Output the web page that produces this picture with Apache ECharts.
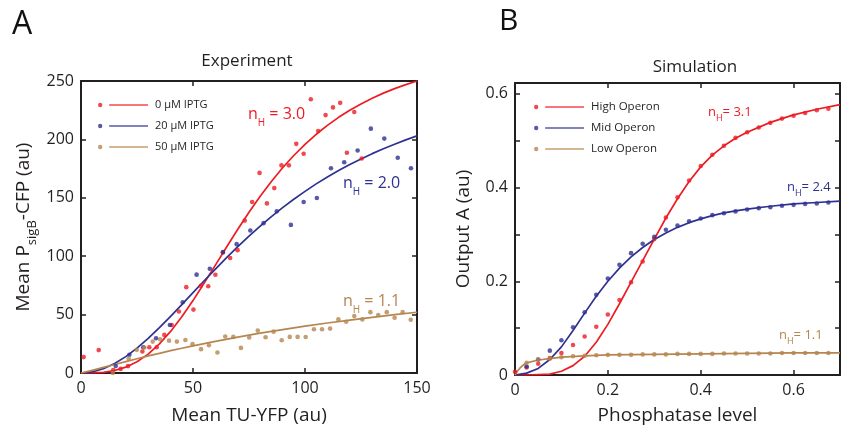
<!DOCTYPE html>
<html>
<head>
<meta charset="utf-8">
<script src="https://cdn.jsdelivr.net/npm/echarts@6/dist/echarts.min.js"></script>
<style>html,body{margin:0;padding:0;background:#fff}#c{width:843px;height:430px}</style>
</head>
<body>
<div id="c"></div>
<script>
// ---------- Panel A: Experiment ----------
const iptg0X = [1.2,7.9,14.4,17.7,21.0,27.4,30.5,33.8,37.2,40.5,43.7,47.0,50.2,53.5,56.8,60.0,63.3,66.6,69.9,73.1,76.4,79.7,83.0,86.3,89.5,92.8,96.1,99.4,102.6,105.9,109.2,112.5,115.7,118.7,122.0,125.3];
const iptg0Y = [13.6,19.6,2.6,3.5,5.9,18.4,22.0,22.0,32.6,41.1,52.7,73.5,54.3,74.6,74.3,84.1,103.2,98.4,105.2,130.5,146.4,171.3,145.2,158.3,177.8,177.8,196.2,187.7,234.4,207.2,220.8,227.4,231.3,188.6,223.4,183.7];
const iptg20X = [15.5,21.6,27.8,33.5,39.7,45.4,51.6,57.5,63.4,69.5,75.6,81.5,87.4,93.7,99.4,105.3,111.6,117.5,123.5,129.4,135.4,141.4,147.3];
const iptg20Y = [6.0,15.6,22.0,29.7,41.1,60.6,84.2,89.2,103.5,110.3,122.0,128.3,138.4,126.8,146.4,149.8,175.3,180.4,190.5,209.2,200.7,184.3,175.3];
const iptg50X = [14.2,21.3,24.9,28.3,32.0,35.3,39.3,42.8,46.6,49.8,53.6,57.1,60.9,64.4,68.0,71.4,75.1,78.9,82.4,86.0,89.6,93.2,96.7,100.3,104.0,107.6,111.2,114.9,118.4,122.0,125.6,129.2,132.7,136.5,140.0,143.6,147.2];
const iptg50Y = [0.0,12.2,19.8,21.8,26.9,28.9,27.7,26.9,28.3,24.7,20.4,23.8,17.6,31.2,30.9,21.5,30.4,36.3,30.6,35.4,28.1,30.9,30.9,30.8,37.4,37.4,38.0,45.9,43.9,48.7,45.9,52.1,49.6,52.1,47.3,52.1,45.6];
// fitted curves
const fitX = [0,5,10,15,20,25,30,35,40,45,50,55,60,65,70,75,80,85,90,95,100,105,110,115,120,125,130,135,140,145,150];
const fit0Y = [0,0.1,0.6,2.1,5.0,9.6,16.2,24.9,35.6,48.1,62.0,77.0,92.4,107.9,123.1,137.7,151.3,164.0,175.7,186.2,195.8,204.4,212.0,218.9,225.0,230.4,235.3,239.6,243.5,246.9,250.0];
const fit20Y = [0,0.9,3.7,8.1,14.0,21.3,29.6,38.8,48.5,58.6,68.8,79.0,89.0,98.8,108.2,117.2,125.8,133.9,141.6,148.8,155.5,161.9,167.8,173.3,178.5,183.3,187.8,192.0,195.9,199.6,203.0];
const fit50X = [0,5,10,15,20,25,30,35,40,45,50,60,70,80,90,100,110,120,130,140,150];
const fit50Y = [0,2.3,4.8,7.3,9.8,12.2,14.6,16.8,19.1,21.2,23.2,27.1,30.7,34.1,37.2,40.1,42.8,45.3,47.7,49.9,52.0];

// ---------- Panel B: Simulation ----------
const simX = [0,0.025,0.05,0.075,0.1,0.125,0.15,0.175,0.2,0.225,0.25,0.275,0.3,0.325,0.35,0.375,0.4,0.425,0.45,0.475,0.5,0.525,0.55,0.575,0.6,0.625,0.65,0.675];
const highY = [0.007,0.016,0.024,0.036,0.047,0.064,0.082,0.103,0.129,0.160,0.198,0.242,0.290,0.336,0.379,0.415,0.446,0.470,0.489,0.506,0.518,0.528,0.538,0.547,0.553,0.559,0.565,0.568];
const midY = [null,0.018,0.033,0.052,0.074,0.102,0.134,0.171,0.206,0.235,0.260,0.280,0.295,0.310,0.319,0.328,0.334,0.341,0.345,0.349,0.353,0.356,0.358,0.361,0.363,0.365,0.366,0.368];
const lowY = [null,0.026,0.033,0.035,0.038,0.040,0.041,0.042,0.043,0.043,0.043,0.044,0.044,0.044,0.045,0.045,0.045,0.045,0.046,0.046,0.046,0.046,0.046,0.047,0.047,0.047,0.047,0.047];
const curveX = [0,0.025,0.05,0.075,0.1,0.125,0.15,0.175,0.2,0.225,0.25,0.275,0.3,0.325,0.35,0.375,0.4,0.425,0.45,0.475,0.5,0.55,0.6,0.65,0.7];
const highCurveY = [0,0,0.001,0.002,0.008,0.02,0.04,0.07,0.108,0.152,0.198,0.244,0.29,0.335,0.376,0.413,0.444,0.469,0.489,0.505,0.518,0.539,0.555,0.567,0.577];
const midCurveY = [0,0.004,0.014,0.033,0.06,0.095,0.132,0.168,0.2,0.228,0.252,0.272,0.289,0.303,0.315,0.325,0.333,0.34,0.346,0.35,0.354,0.36,0.365,0.368,0.371];
const lowCurveX = [0,0.005,0.01,0.015,0.02,0.025,0.05,0.075,0.1,0.15,0.2,0.3,0.4,0.5,0.6,0.7];
const lowCurveY = [0,0.008,0.014,0.019,0.023,0.026,0.032,0.035,0.038,0.041,0.043,0.044,0.045,0.046,0.047,0.047];

const namesA = ['0 µM IPTG','20 µM IPTG','50 µM IPTG'];
const namesB = ['High Operon','Mid Operon','Low Operon'];

// ---------- styling ----------
const RED = '#ED1C24', BLUE = '#2E3192', BROWN = '#B5864F', INK = '#231F20';
const FONT = 'Open Sans';
const zip = (xs, ys) => xs.map((x, i) => [x, ys[i]]).filter(p => p[1] !== null);

const legendIcon = 'path://M0,2.2a2.2,2.2 0 1,0 4.4,0a2.2,2.2 0 1,0 -4.4,0zM11.2,1.45h39v1.5h-39z';

function axisCommon(extra) {
  return Object.assign({
    type: 'value',
    axisLine: { show: true, onZero: false, lineStyle: { color: INK, width: 2 } },
    axisTick: { show: true, inside: true, length: 5, lineStyle: { color: INK, width: 1.5 } },
    splitLine: { show: false },
    axisLabel: { show: true, color: INK, fontFamily: FONT, fontSize: 16, margin: 7 },
  }, extra);
}
const mirror = { axisLabel: { show: false } };

const fmtB = v => {
  if (Math.abs(v * 5 - Math.round(v * 5)) > 1e-6) return '';
  return v === 0 ? '0' : v.toFixed(1);
};

function scatter(name, data, color, xi, yi) {
  return { type: 'scatter', name, data, xAxisIndex: xi, yAxisIndex: yi, symbolSize: 4.6,
    itemStyle: { color }, z: 3, silent: true };
}
function fit(name, data, color, xi, yi) {
  return { type: 'line', name, data, xAxisIndex: xi, yAxisIndex: yi, showSymbol: false,
    smooth: false, lineStyle: { color, width: 1.7, join: 'round' }, itemStyle: { color }, z: 2, silent: true };
}

const chart = echarts.init(document.getElementById('c'), null, { renderer: 'canvas' });

function nh(x, y, val, color, size, sub, sep, extra) {
  return { type: 'text', x, y, z: 10,
    style: { text: '{n|n}{s|H}{n|' + sep + val + '}', fill: color, verticalAlign: 'middle', align: 'left',
      rich: { n: { fontFamily: FONT, fontSize: size, lineHeight: size + extra, fill: color },
              s: { fontFamily: FONT, fontSize: sub, lineHeight: sub, verticalAlign: 'bottom', fill: color } } } };
}

const option = {
  animation: false,
  backgroundColor: '#fff',
  textStyle: { fontFamily: FONT },
  title: [
    { text: 'Experiment', left: 242, top: 48, textAlign: 'center', textStyle: { fontFamily: FONT, fontSize: 17, fontWeight: 'normal', color: INK } },
    { text: 'Simulation', left: 690, top: 54, textAlign: 'center', textStyle: { fontFamily: FONT, fontSize: 17, fontWeight: 'normal', color: INK } }
  ],
  grid: [
    { left: 81, top: 81, width: 336, height: 294 },
    { left: 515, top: 83, width: 331, height: 293 }
  ],
  legend: [
    { data: namesA.map(n => ({ name: n, icon: legendIcon })), orient: 'vertical', left: 98, top: 98, padding: 0,
      itemWidth: 50, itemHeight: 4.4, itemGap: 7, selectedMode: false,
      textStyle: { fontFamily: FONT, fontSize: 11, color: INK, lineHeight: 14, padding: [0, 0, 0, 2] } },
    { data: namesB.map(n => ({ name: n, icon: legendIcon })), orient: 'vertical', left: 534, top: 100, padding: 0,
      itemWidth: 50, itemHeight: 4.4, itemGap: 7, selectedMode: false,
      textStyle: { fontFamily: FONT, fontSize: 11.5, color: INK, lineHeight: 14, padding: [0, 0, 0, 2] } }
  ],
  xAxis: [
    axisCommon({ gridIndex: 0, position: 'bottom', min: 0, max: 150, interval: 50,
      name: 'Mean TU-YFP (au)', nameLocation: 'middle', nameGap: 33,
      nameTextStyle: { fontFamily: FONT, fontSize: 19, color: INK } }),
    axisCommon(Object.assign({ gridIndex: 0, position: 'top', min: 0, max: 150, interval: 50 }, mirror)),
    axisCommon({ gridIndex: 1, position: 'bottom', min: 0, max: 0.7, interval: 0.2,
      axisLabel: { color: INK, fontFamily: FONT, fontSize: 16, margin: 7, formatter: fmtB },
      name: 'Phosphatase level', nameLocation: 'middle', nameGap: 31,
      nameTextStyle: { fontFamily: FONT, fontSize: 19, color: INK } }),
    axisCommon(Object.assign({ gridIndex: 1, position: 'top', min: 0, max: 0.7, interval: 0.2 }, mirror))
  ],
  yAxis: [
    axisCommon({ gridIndex: 0, position: 'left', min: 0, max: 250, interval: 50,
      name: '{a|Mean P}{b|sigB}{a|-CFP (au)}', nameLocation: 'middle', nameGap: 42,
      nameTextStyle: { color: INK, rich: {
        a: { fontFamily: FONT, fontSize: 19, lineHeight: 30, color: INK },
        b: { fontFamily: FONT, fontSize: 13, lineHeight: 13, verticalAlign: 'bottom', color: INK } } } }),
    axisCommon(Object.assign({ gridIndex: 0, position: 'right', min: 0, max: 250, interval: 50 }, mirror)),
    axisCommon({ gridIndex: 1, position: 'left', min: 0, max: 0.623, interval: 0.1,
      axisLabel: { color: INK, fontFamily: FONT, fontSize: 16, margin: 7, formatter: fmtB },
      name: 'Output A (au)', nameLocation: 'middle', nameGap: 42,
      nameTextStyle: { fontFamily: FONT, fontSize: 19, color: INK } }),
    axisCommon(Object.assign({ gridIndex: 1, position: 'right', min: 0, max: 0.623, interval: 0.1 }, mirror))
  ],
  series: [
    scatter(namesA[0], zip(iptg0X, iptg0Y), RED, 0, 0),
    scatter(namesA[1], zip(iptg20X, iptg20Y), BLUE, 0, 0),
    scatter(namesA[2], zip(iptg50X, iptg50Y), BROWN, 0, 0),
    fit(namesA[0], zip(fitX, fit0Y), RED, 0, 0),
    fit(namesA[1], zip(fitX, fit20Y), BLUE, 0, 0),
    fit(namesA[2], zip(fit50X, fit50Y), BROWN, 0, 0),
    scatter(namesB[0], zip(simX, highY), RED, 2, 2),
    scatter(namesB[1], zip(simX, midY), BLUE, 2, 2),
    scatter(namesB[2], zip(simX, lowY), BROWN, 2, 2),
    fit(namesB[0], zip(curveX, highCurveY), RED, 2, 2),
    fit(namesB[1], zip(curveX, midCurveY), BLUE, 2, 2),
    fit(namesB[2], zip(lowCurveX, lowCurveY), BROWN, 2, 2)
  ],
  graphic: [
    { type: 'text', x: 12, y: 25, style: { text: 'A', fontFamily: FONT, fontSize: 32, fill: '#111', verticalAlign: 'middle' } },
    { type: 'text', x: 499, y: 21, style: { text: 'B', fontFamily: FONT, fontSize: 30, fill: '#111', verticalAlign: 'middle' } },
    nh(248, 114, '3.0', RED, 16, 10, ' = ', 12),
    nh(343, 183, '2.0', BLUE, 16, 10, ' = ', 12),
    nh(343, 301, '1.1', BROWN, 16, 10, ' = ', 12),
    nh(708, 112, '3.1', RED, 13, 9, '= ', 8),
    nh(787, 187, '2.4', BLUE, 13, 9, '= ', 8),
    nh(779, 335, '1.1', BROWN, 13, 9, '= ', 8)
  ]
};
chart.setOption(option);
</script>
</body>
</html>
